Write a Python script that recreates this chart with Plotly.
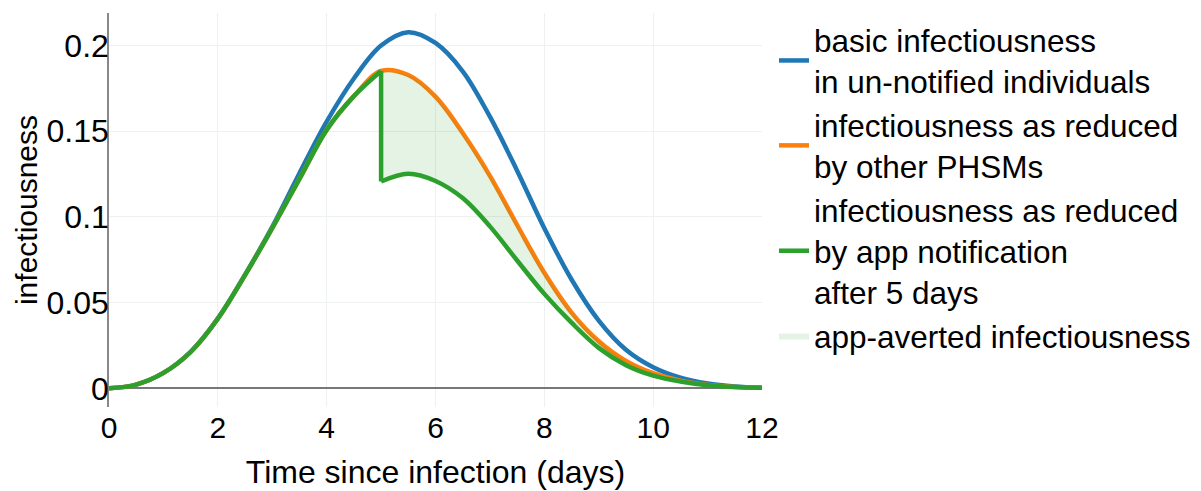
import plotly.graph_objects as go

# ---- data ----
t_full = [0, 0.5, 1, 1.5, 2, 2.5, 3, 3.5, 4, 4.5, 5, 5.5, 6, 6.5, 7, 7.5, 8, 8.5, 9, 9.5, 10, 10.5, 11, 11.5, 12]
basic = [0, 0.0022, 0.009, 0.0213, 0.0408, 0.0663, 0.0942, 0.1255, 0.1556, 0.1808, 0.2, 0.2078, 0.2015,
         0.185, 0.1585, 0.127, 0.0934, 0.0635, 0.0395, 0.0225, 0.0123, 0.0062, 0.0028, 0.0011, 0.0004]
phsm = [0, 0.0022, 0.009, 0.0212, 0.0406, 0.0661, 0.0935, 0.1222, 0.1508, 0.1705, 0.1852, 0.1828, 0.1702,
        0.149, 0.124, 0.0953, 0.0674, 0.0442, 0.0275, 0.016, 0.0088, 0.0045, 0.002, 0.0008, 0.0003]

t_pre = [0, 0.5, 1, 1.5, 2, 2.5, 3, 3.5, 4, 4.5, 5]
app_pre = [0, 0.0022, 0.009, 0.0212, 0.0406, 0.0661, 0.0935, 0.1222, 0.1508, 0.1705, 0.1852]
t_post = [5, 5.5, 6, 6.5, 7, 7.5, 8, 8.5, 9, 9.5, 10, 10.5, 11, 11.5, 12]
app_post = [0.1207, 0.1252, 0.121, 0.111, 0.0945, 0.0746, 0.0551, 0.0383, 0.0236, 0.0135, 0.0074, 0.004,
            0.0018, 0.0007, 0.0003]
phsm_post = [0.1852, 0.1828, 0.1702, 0.149, 0.124, 0.0953, 0.0674, 0.0442, 0.0275, 0.016, 0.0088, 0.0045,
             0.002, 0.0008, 0.0003]

names = ["basic infectiousness<br>in un-notified individuals",
         "infectiousness as reduced<br>by other PHSMs",
         "infectiousness as reduced<br>by app notification<br>after 5 days",
         "app-averted infectiousness"]
x_ticks = [0, 2, 4, 6, 8, 10, 12]
y_ticks = [0, 0.05, 0.1, 0.15, 0.2]
y_ticktext = ["0", "0.05", "0.1", "0.15", "0.2"]

BLUE, ORANGE, GREEN = "#1f77b4", "#ff7f0e", "#2ca02c"
LW = 4.5
SM = 1.0
FONT = "Arial, Liberation Sans, sans-serif"

fig = go.Figure()
fig.add_trace(go.Scatter(x=t_full, y=basic, mode="lines", name=names[0], legendrank=1,
                         line=dict(color=BLUE, width=LW, shape="spline", smoothing=SM)))
fig.add_trace(go.Scatter(x=t_full, y=phsm, mode="lines", name=names[1], legendrank=2,
                         line=dict(color=ORANGE, width=LW, shape="spline", smoothing=SM)))
# fill between orange and green after notification
fig.add_trace(go.Scatter(x=t_post, y=phsm_post, mode="lines", showlegend=False, hoverinfo="skip",
                         line=dict(width=0, shape="spline", smoothing=SM, color="rgba(0,0,0,0)")))
fig.add_trace(go.Scatter(x=t_post, y=app_post, mode="lines", name=names[3], legendrank=4,
                         fill="tonexty", fillcolor="rgba(44,160,44,0.13)",
                         line=dict(width=0, shape="spline", smoothing=SM, color="rgba(44,160,44,0.13)")))
# green line (pre, drop, post)
gx = t_pre + [None] + [t_post[0], t_post[0]] + [None] + t_post
gy = app_pre + [None] + [app_pre[-1], app_post[0]] + [None] + app_post
fig.add_trace(go.Scatter(x=gx, y=gy, mode="lines", name=names[2], legendrank=3,
                         line=dict(color=GREEN, width=LW, shape="spline", smoothing=SM)))

fig.update_layout(
    width=1201, height=491,
    margin=dict(l=109, r=439, t=13, b=84, autoexpand=False),
    paper_bgcolor="white", plot_bgcolor="white",
    font=dict(family=FONT, size=30, color="black"),
    showlegend=True,
    legend=dict(xref="container", x=774 / 1201, y=1.0, xanchor="left", yanchor="top",
                bgcolor="rgba(0,0,0,0)", traceorder="normal", font=dict(size=31.5),
                itemwidth=30, tracegroupgap=0),
)
fig.update_xaxes(range=[0, 12], tickvals=x_ticks, showgrid=True, gridcolor="#eef1f1", gridwidth=1,
                 zeroline=False, showline=False, ticks="", tickfont=dict(size=30),
                 title=dict(text="Time since infection (days)", font=dict(size=32), standoff=17))
fig.update_yaxes(range=[-0.0109, 0.219], tickvals=y_ticks, ticktext=y_ticktext, showgrid=True,
                 gridcolor="#eef1f1", gridwidth=1, zeroline=True, zerolinecolor="#777777", zerolinewidth=1.5,
                 showline=True, linecolor="#888888", linewidth=1.5, ticks="", tickfont=dict(size=32),
                 ticklabelstandoff=-8,
                 title=dict(text="infectiousness", font=dict(size=30), standoff=0))

fig.write_html("out.html")
